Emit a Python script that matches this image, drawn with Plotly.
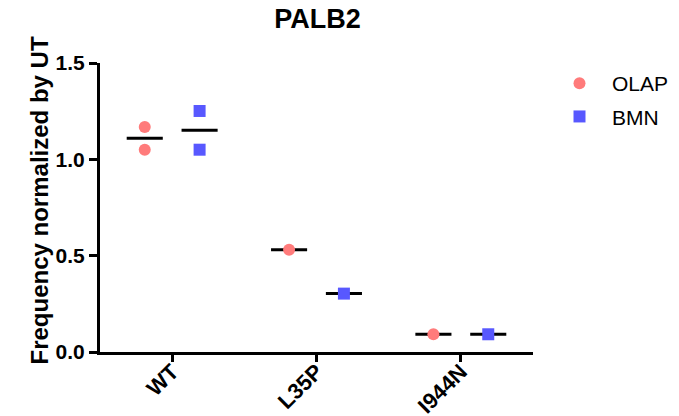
import plotly.graph_objects as go

categories = ["WT", "L35P", "I944N"]
olap_values = [[1.168, 1.050], [0.531], [0.092]]
bmn_values = [[1.251, 1.050], [0.303], [0.092]]
y_ticks = [0.0, 0.5, 1.0, 1.5]
y_tick_labels = ["0.0", "0.5", "1.0", "1.5"]
y_title = "Frequency normalized by UT"

OLAP_COLOR = "#FF7B7B"
BMN_COLOR = "#5858FF"
OFFSET = 0.19
HALF = 0.125
FONT = "Liberation Sans, Arial, sans-serif"

W, H = 679, 416  # page body adds an 8px offset
L, R, T, B = 92, 154, 55, 72

fig = go.Figure()

def add_group(values, off, color, symbol, name):
    xs, ys = [], []
    lx, ly = [], []
    for i, vals in enumerate(values):
        for v in vals:
            xs.append(i + off)
            ys.append(v)
        m = sum(vals) / len(vals)
        lx += [i + off - HALF, i + off + HALF, None]
        ly += [m, m, None]
    fig.add_trace(go.Scatter(x=lx, y=ly, mode="lines", line=dict(color="black", width=3),
                             showlegend=False, hoverinfo="skip"))
    fig.add_trace(go.Scatter(x=xs, y=ys, mode="markers", name=name, legendgroup=name,
                             marker=dict(color=color, symbol=symbol, size=12,
                                         line=dict(width=0))))

add_group(olap_values, -OFFSET, OLAP_COLOR, "circle", "OLAP")
add_group(bmn_values, OFFSET, BMN_COLOR, "square", "BMN")

plot_w = W - L - R
plot_h = H - T - B

fig.add_annotation(text=y_title, textangle=-90, showarrow=False,
                   xref="paper", yref="paper",
                   x=(30.5 - L) / plot_w, y=(H - B - 193) / plot_h,
                   xanchor="center", yanchor="middle",
                   font=dict(size=24, weight="bold", family=FONT, color="black"))

fig.update_layout(
    width=W, height=H,
    margin=dict(l=L, r=R, t=T, b=B),
    plot_bgcolor="white", paper_bgcolor="white",
    font=dict(family=FONT, color="black"),
    title=dict(text="PALB2", x=309.5 / W, xanchor="center",
               y=1 - 10.5 / H, yanchor="middle",
               font=dict(size=27, weight="bold", family=FONT, color="black")),
    xaxis=dict(range=[-0.5, 2.5], tickvals=[0, 1, 2], ticktext=categories,
               tickangle=-45, showline=True, linewidth=3, linecolor="black",
               ticks="outside", ticklen=7, tickwidth=3, tickcolor="black",
               showgrid=False, zeroline=False, automargin=False,
               ticklabelstandoff=-12,
               tickfont=dict(size=22, weight="bold", family=FONT, color="black")),
    yaxis=dict(range=[0, 1.5], tickvals=y_ticks, ticktext=y_tick_labels,
               showline=True, linewidth=3, linecolor="black",
               ticks="outside", ticklen=8, tickwidth=3, tickcolor="black",
               showgrid=False, zeroline=False, automargin=False,
               tickfont=dict(size=21, weight="bold", family=FONT, color="black")),
    legend=dict(xref="container", yref="container",
                x=539 / W, y=1 - T / H, xanchor="left", yanchor="top", itemwidth=55,
                tracegroupgap=3,
                font=dict(size=21, family=FONT, color="black"),
                bgcolor="rgba(0,0,0,0)"),
)

fig.write_html("out.html")
